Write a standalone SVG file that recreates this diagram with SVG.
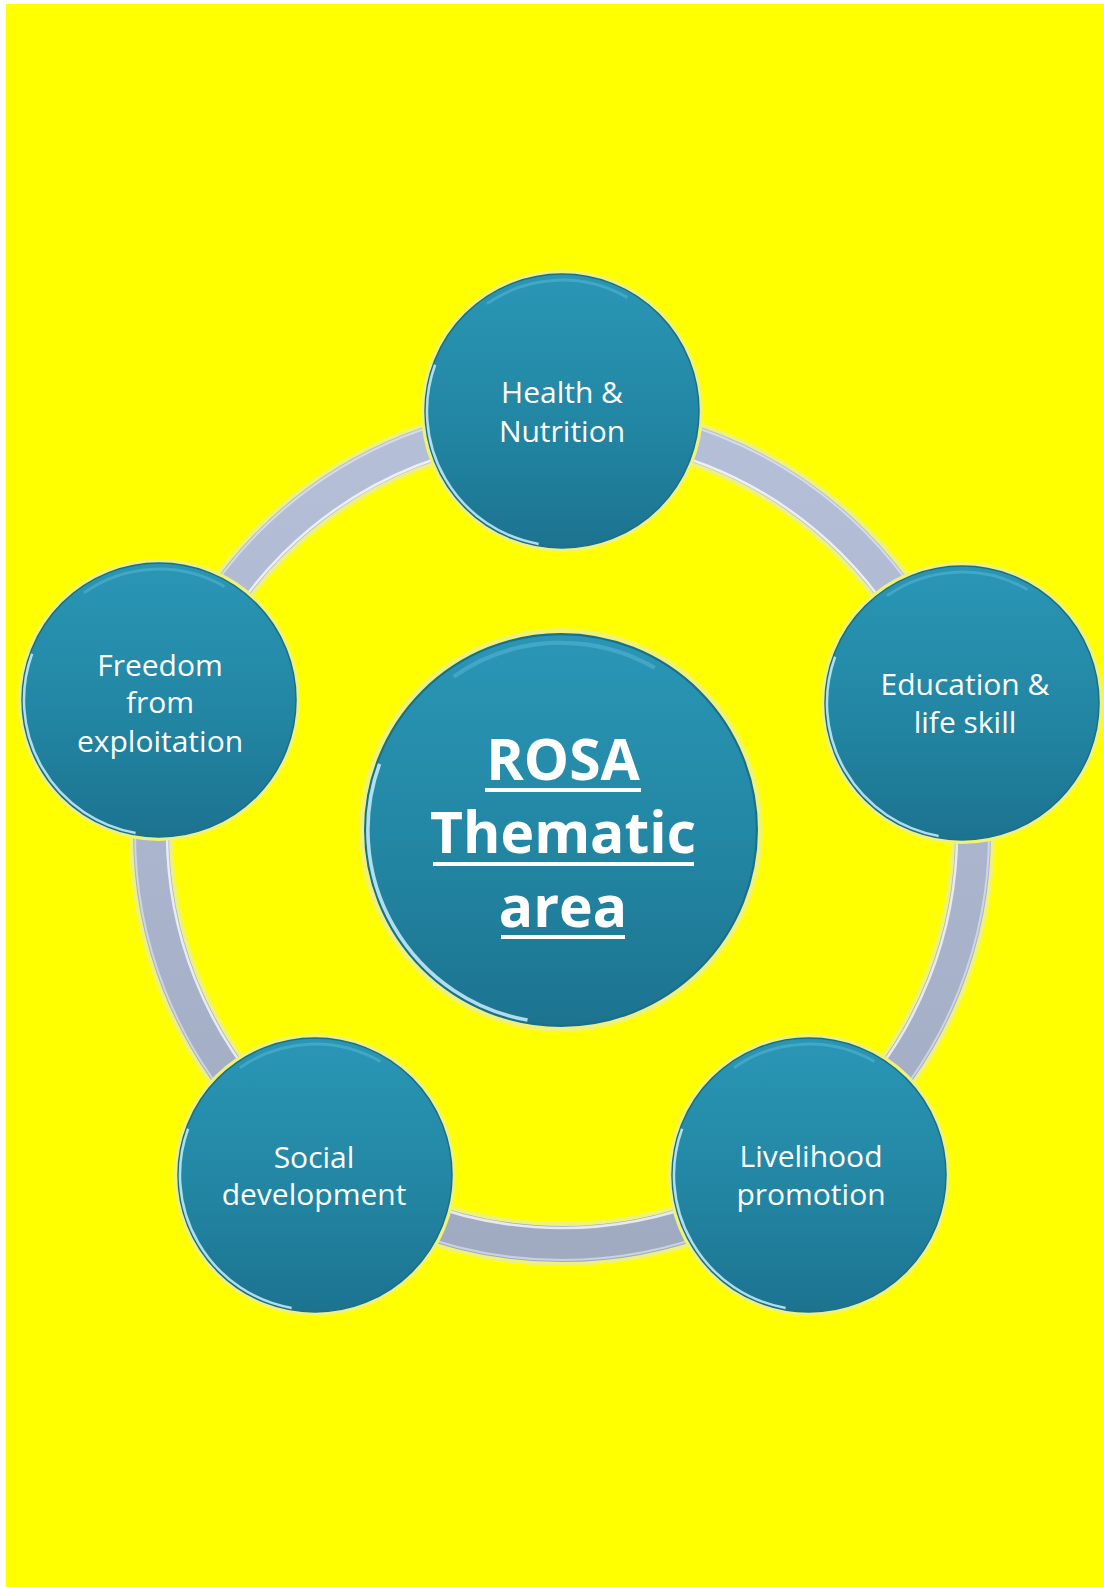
<svg xmlns="http://www.w3.org/2000/svg" xmlns:xlink="http://www.w3.org/1999/xlink" width="1104" height="1587" viewBox="0 0 1104 1587">
  <style>
    .lbl { font-family: "Open Sans", "Noto Sans", "Liberation Sans", sans-serif; font-size: 30px; fill: #ffffff; text-anchor: middle; }
    .title { font-family: "Open Sans", "Noto Sans", "Liberation Sans", sans-serif; font-size: 57px; font-weight: bold; fill: #ffffff; text-anchor: middle; }
    .uline { fill: #ffffff; }
  </style>
  <defs>
    <linearGradient id="orbFill" x1="0" y1="0" x2="0" y2="1">
      <stop offset="0" stop-color="#2a96b6"/>
      <stop offset="0.55" stop-color="#2286a3"/>
      <stop offset="1" stop-color="#1c7390"/>
    </linearGradient>
    <linearGradient id="ringFill" x1="0" y1="0" x2="0" y2="1">
      <stop offset="0" stop-color="#b6bfd8"/>
      <stop offset="1" stop-color="#a0abc2"/>
    </linearGradient>
    <g id="orb">
      <circle r="141" fill="#eef27a"/>
      <circle r="137" fill="url(#orbFill)" stroke="#1a6f8a" stroke-width="1.5"/>
      <path d="M -23.4 132.9 A 135 135 0 0 1 -126.9 -46.2" fill="none" stroke="#c8f0ff" stroke-width="2.5" stroke-opacity="0.85"/>
      <path d="M -75.1 -107.2 A 131 131 0 0 1 65.5 -113.4" fill="none" stroke="#7fd0ec" stroke-width="3" stroke-opacity="0.3"/>
    </g>
  </defs>

  <rect x="0" y="0" width="1104" height="1587" fill="#ffffff"/>
  <rect x="6" y="4" width="1098" height="1583" fill="#ffff00"/>

  <g id="connectors">
    <circle cx="562" cy="833" r="411" fill="none" stroke="#eef27a" stroke-width="44"/>
    <circle cx="562" cy="833" r="411" fill="none" stroke="url(#ringFill)" stroke-width="36"/>
    <circle cx="562" cy="833" r="395" fill="none" stroke="#ffffff" stroke-width="2.5" stroke-opacity="0.75"/>
    <circle cx="562" cy="833" r="427" fill="none" stroke="#ffffff" stroke-width="2" stroke-opacity="0.45"/>
  </g>

  <g id="node-center">
    <use xlink:href="#orb" href="#orb" transform="translate(561,830) scale(1.43)"/>
    <text class="title" x="563" y="780">ROSA</text>
    <rect class="uline" x="485" y="788" width="156" height="4"/>
    <text class="title" x="563" y="853">Thematic</text>
    <rect class="uline" x="433" y="862" width="261" height="4"/>
    <text class="title" x="563" y="927">area</text>
    <rect class="uline" x="501" y="935" width="124" height="4"/>
  </g>

  <g id="node-health">
    <use xlink:href="#orb" href="#orb" transform="translate(562,411)"/>
    <text class="lbl" x="562" y="403">Health &amp;</text>
    <text class="lbl" x="562" y="442">Nutrition</text>
  </g>

  <g id="node-education">
    <use xlink:href="#orb" href="#orb" transform="translate(962,703)"/>
    <text class="lbl" x="965" y="695">Education &amp;</text>
    <text class="lbl" x="965" y="733">life skill</text>
  </g>

  <g id="node-livelihood">
    <use xlink:href="#orb" href="#orb" transform="translate(809,1175)"/>
    <text class="lbl" x="811" y="1167">Livelihood</text>
    <text class="lbl" x="811" y="1205">promotion</text>
  </g>

  <g id="node-social">
    <use xlink:href="#orb" href="#orb" transform="translate(315,1175)"/>
    <text class="lbl" x="314" y="1168">Social</text>
    <text class="lbl" x="314" y="1205">development</text>
  </g>

  <g id="node-freedom">
    <use xlink:href="#orb" href="#orb" transform="translate(159,700)"/>
    <text class="lbl" x="160" y="676">Freedom</text>
    <text class="lbl" x="160" y="713">from</text>
    <text class="lbl" x="160" y="752">exploitation</text>
  </g>
</svg>
